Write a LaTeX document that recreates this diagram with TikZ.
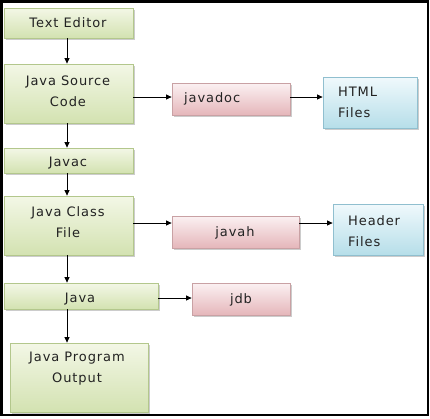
\documentclass[tikz,border=0pt]{standalone}
\usepackage{fontspec}
\setmainfont{DejaVu Sans}[LetterSpace=7]
\usetikzlibrary{shadows,arrows.meta}
\definecolor{gtop}{HTML}{F3F7E6}
\definecolor{gbot}{HTML}{D3E2B1}
\definecolor{gline}{HTML}{B3C78C}
\definecolor{ptop}{HTML}{FBF1F2}
\definecolor{pbot}{HTML}{E5B6BA}
\definecolor{pline}{HTML}{C9A1A4}
\definecolor{btop}{HTML}{F0F9FC}
\definecolor{bbot}{HTML}{B6DEE9}
\definecolor{bline}{HTML}{90BFCF}
\definecolor{txt}{HTML}{222222}
\tikzset{
  x=1pt, y=-1pt,
  base/.style={rectangle, inner sep=0pt, line width=0.8pt,
    drop shadow={shadow xshift=1.5pt, shadow yshift=-1.5pt, fill=black!40, opacity=0.5}},
  gbox/.style={base, draw=gline, top color=gtop, bottom color=gbot},
  pbox/.style={base, draw=pline, top color=ptop, bottom color=pbot},
  bbox/.style={base, draw=bline, top color=btop, bottom color=bbot},
  lbl/.style={inner sep=0pt, text=txt, font=\fontsize{13}{21}\selectfont},
  arr/.style={-{Triangle[length=5.5pt,width=5pt]}, line width=0.8pt, black},
}
\newcommand{\mybox}[6]{% style, name, x1, y1, x2, y2
  \path (#3,#4) coordinate (#2-a) (#5,#6) coordinate (#2-b);
  \node[#1, minimum width={#5-#3}, minimum height={#6-#4}] (#2) at ({(#3+#5)/2},{(#4+#6)/2}) {};
}
\begin{document}
\begin{tikzpicture}
\useasboundingbox (0,0) rectangle (430,418);
\draw[line width=2.6pt] (1.5,1.5) rectangle (428,415);
\coordinate (spine) at (67,0);
\mybox{gbox}{te}{4}{8}{133}{38}
\mybox{gbox}{jsc}{4}{64}{133}{123}
\mybox{gbox}{javac}{4}{148}{133}{173}
\mybox{gbox}{jcf}{4}{196}{133}{255}
\mybox{gbox}{java}{4}{283}{158}{309}
\mybox{gbox}{out}{10}{343}{148}{412}
\mybox{pbox}{javadoc}{172}{83}{290}{115}
\mybox{bbox}{html}{323}{77}{417}{128}
\mybox{pbox}{javah}{172}{216}{299}{248}
\mybox{bbox}{header}{333}{204}{423}{255}
\mybox{pbox}{jdb}{192}{283}{290}{315}
% texts
\node[lbl] (te-t) at (68,23) {Text Editor};
\node[lbl, align=center] (jsc-t) at (68,91) {Java Source\\Code};
\node[lbl] (javac-t) at (68,163) {Javac};
\node[lbl, align=center] (jcf-t) at (68,222) {Java Class\\File};
\node[lbl] (java-t) at (80,299) {Java};
\node[lbl, align=center] (out-t) at (77,369) {Java Program\\Output};
\node[lbl, anchor=west] (javadoc-t) at (184,99) {javadoc};
\node[lbl, align=left, anchor=west] (html-t) at (338,102) {HTML\\Files};
\node[lbl] (javah-t) at (235,233) {javah};
\node[lbl, align=left, anchor=west] (header-t) at (348,231) {Header\\Files};
\node[lbl] (jdb-t) at (241,300) {jdb};
% arrows
\draw[arr] (te.south -| spine) -- (jsc.north -| spine);
\draw[arr] (jsc.south -| spine) -- (javac.north -| spine);
\draw[arr] (javac.south -| spine) -- (jcf.north -| spine);
\draw[arr] (jcf.south -| spine) -- (java.north -| spine);
\draw[arr] (java.south -| spine) -- (out.north -| spine);
\coordinate (r1) at (0,97);
\coordinate (r2) at (0,223);
\coordinate (r3) at (0,298);
\draw[arr] (jsc.east |- r1) -- (javadoc.west |- r1);
\draw[arr] (javadoc.east |- r1) -- (html.west |- r1);
\draw[arr] (jcf.east |- r2) -- (javah.west |- r2);
\draw[arr] (javah.east |- r2) -- (header.west |- r2);
\draw[arr] (java.east |- r3) -- (jdb.west |- r3);
\end{tikzpicture}
\end{document}
